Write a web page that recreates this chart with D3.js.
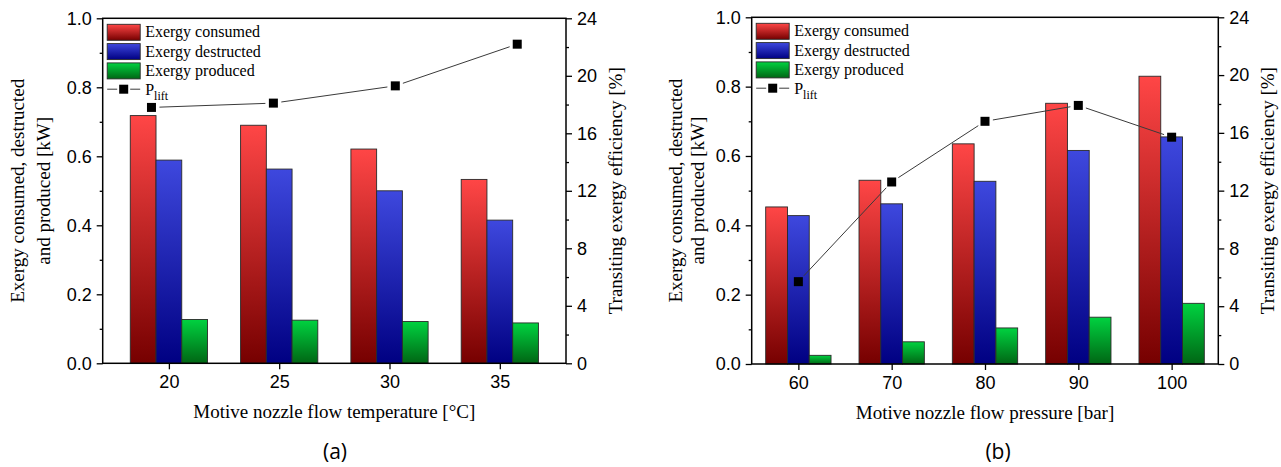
<!DOCTYPE html>
<html>
<head>
<meta charset="utf-8">
<script src="https://cdn.jsdelivr.net/npm/d3@7"></script>
<style>
  body { margin: 0; background: #fff; }
  svg { display: block; }
</style>
</head>
<body>
<svg id="chart" width="1281" height="467"></svg>
<script>
// ---- data -------------------------------------------------------------
const seriesNames = ["Exergy consumed", "Exergy destructed", "Exergy produced"];

// (a) motive nozzle flow temperature [°C]
const temperatures = [20, 25, 30, 35];
const tempConsumed = [0.718, 0.690, 0.621, 0.533];
const tempDestructed = [0.589, 0.563, 0.500, 0.415];
const tempProduced = [0.127, 0.125, 0.121, 0.117];
const tempEfficiency = [17.8, 18.1, 19.3, 22.2];

// (b) motive nozzle flow pressure [bar]
const pressures = [60, 70, 80, 90, 100];
const pressConsumed = [0.453, 0.530, 0.635, 0.752, 0.830];
const pressDestructed = [0.428, 0.462, 0.527, 0.616, 0.655];
const pressProduced = [0.025, 0.064, 0.104, 0.135, 0.175];
const pressEfficiency = [5.7, 12.6, 16.8, 17.9, 15.7];

// axis ticks
const powerTicks = [0, 0.2, 0.4, 0.6, 0.8, 1.0];
const powerMinorTicks = [0.1, 0.3, 0.5, 0.7, 0.9];
const efficiencyTicks = [0, 4, 8, 12, 16, 20, 24];
const efficiencyMinorTicks = [2, 6, 10, 14, 18, 22];

// ---- drawing ----------------------------------------------------------
const svg = d3.select("#chart");
const defs = svg.append("defs");

// vertical fills: bright at the top of each bar, dark at its base
const fills = [["#ff4646", "#760000"], ["#3e48de", "#000082"], ["#00d240", "#006614"]];
fills.forEach((c, i) => {
  const g = defs.append("linearGradient").attr("id", "fill" + i)
    .attr("x1", 0).attr("y1", 0).attr("x2", 0).attr("y2", 1);
  g.append("stop").attr("offset", "0%").attr("stop-color", c[0]);
  g.append("stop").attr("offset", "100%").attr("stop-color", c[1]);
});

const tickFont = "'Liberation Sans', Arial, sans-serif";
const serifFont = "'Liberation Serif', 'Times New Roman', serif";

function drawPanel(p) {
  const g = svg.append("g");
  const x = d3.scaleLinear().domain(p.xDomain).range([p.left, p.right]);
  const xLine = d3.scaleLinear().domain(p.lineXDomain).range([p.left, p.right]);
  const y = d3.scaleLinear().domain([0, 1]).range([p.bottom, p.top]);
  const yR = d3.scaleLinear().domain([0, 24]).range([p.bottom, p.top]);

  // bars
  const barUnits = p.step * 0.7 / 3;
  const barW = x(barUnits) - x(0);
  p.series.forEach((vals, s) => {
    g.append("g").selectAll("rect").data(vals).join("rect")
      .attr("x", (d, i) => x(p.categories[i] - 1.5 * barUnits + s * barUnits))
      .attr("y", d => y(d))
      .attr("width", barW)
      .attr("height", d => y(0) - y(d))
      .attr("fill", `url(#fill${s})`)
      .attr("stroke", "#2a2a2a")
      .attr("stroke-width", 0.9);
  });

  // efficiency line with small gaps around each marker
  const pts = p.efficiency.map((v, i) => [xLine(p.categories[i]), yR(v)]);
  const gap = 8;
  const line = d3.line();
  for (let i = 0; i < pts.length - 1; i++) {
    const [x0, y0] = pts[i], [x1, y1] = pts[i + 1];
    const len = Math.hypot(x1 - x0, y1 - y0);
    const ux = (x1 - x0) / len, uy = (y1 - y0) / len;
    g.append("path")
      .attr("d", line([[x0 + ux * gap, y0 + uy * gap], [x1 - ux * gap, y1 - uy * gap]]))
      .attr("fill", "none").attr("stroke", "#3a3a3a").attr("stroke-width", 1);
  }
  g.append("g").selectAll("rect").data(pts).join("rect")
    .attr("x", d => d[0] - 4.5).attr("y", d => d[1] - 4.5)
    .attr("width", 9).attr("height", 9).attr("fill", "#000");

  // frame
  g.append("rect").attr("x", p.left).attr("y", p.top)
    .attr("width", p.right - p.left).attr("height", p.bottom - p.top)
    .attr("fill", "none").attr("stroke", "#000").attr("stroke-width", 1.5);

  const styleAxis = a => {
    a.select(".domain").remove();
    a.selectAll("line").attr("stroke", "#000").attr("stroke-width", 1.3);
    a.selectAll("text").attr("font-family", tickFont).attr("font-size", 18).attr("fill", "#000");
  };

  // left axis
  g.append("g").attr("transform", `translate(${p.left},0)`)
    .call(d3.axisLeft(y).tickValues(powerTicks).tickFormat(d3.format(".1f")).tickSize(6).tickPadding(5))
    .call(styleAxis);
  g.append("g").attr("transform", `translate(${p.left},0)`)
    .call(d3.axisLeft(y).tickValues(powerMinorTicks).tickFormat("").tickSize(3))
    .call(styleAxis);

  // right axis
  g.append("g").attr("transform", `translate(${p.right},0)`)
    .call(d3.axisRight(yR).tickValues(efficiencyTicks).tickSize(6).tickPadding(5))
    .call(styleAxis);
  g.append("g").attr("transform", `translate(${p.right},0)`)
    .call(d3.axisRight(yR).tickValues(efficiencyMinorTicks).tickFormat("").tickSize(3))
    .call(styleAxis);

  // bottom axis
  g.append("g").attr("transform", `translate(0,${p.bottom})`)
    .call(d3.axisBottom(x).tickValues(p.categories).tickFormat(d3.format("d")).tickSize(6).tickPadding(6))
    .call(styleAxis);

  // axis titles
  const midY = (p.top + p.bottom) / 2;
  p.leftTitle.forEach((t, i) => {
    g.append("text")
      .attr("transform", `translate(${p.leftTitleX[i]},${midY}) rotate(-90)`)
      .attr("text-anchor", "middle").attr("dy", "0.35em")
      .attr("font-family", serifFont).attr("font-size", 19).text(t);
  });
  g.append("text")
    .attr("transform", `translate(${p.right + 49},${midY}) rotate(-90)`)
    .attr("text-anchor", "middle").attr("dy", "0.35em")
    .attr("font-family", serifFont).attr("font-size", 19)
    .text("Transiting exergy efficiency [%]");
  g.append("text")
    .attr("x", (p.left + p.right) / 2).attr("y", p.bottom + 55)
    .attr("text-anchor", "middle")
    .attr("font-family", serifFont).attr("font-size", 19)
    .text(p.xTitle);
  g.append("text")
    .attr("x", p.tagX).attr("y", 459)
    .attr("text-anchor", "middle")
    .attr("font-family", "'Open Sans', 'Noto Sans', sans-serif").attr("font-size", 21)
    .text(p.tag);

  // legend
  const lx = p.left + 4.5, ly = p.top + 6, row = 19.3;
  seriesNames.forEach((name, s) => {
    g.append("rect").attr("x", lx).attr("y", ly + s * row)
      .attr("width", 33).attr("height", 16)
      .attr("fill", `url(#fill${s})`).attr("stroke", "#2a2a2a").attr("stroke-width", 0.9);
    g.append("text").attr("x", lx + 38).attr("y", ly + s * row + 13)
      .attr("font-family", serifFont).attr("font-size", 16).text(name);
  });
  const ry = ly + 3 * row + 7;
  g.append("path").attr("d", d3.line()([[lx, ry], [lx + 10, ry]])).attr("stroke", "#3a3a3a");
  g.append("path").attr("d", d3.line()([[lx + 23, ry], [lx + 33, ry]])).attr("stroke", "#3a3a3a");
  g.append("rect").attr("x", lx + 12).attr("y", ry - 4.5).attr("width", 9).attr("height", 9).attr("fill", "#000");
  const lt = g.append("text").attr("x", lx + 38).attr("y", ry + 6)
    .attr("font-family", serifFont).attr("font-size", 16);
  lt.append("tspan").text("P");
  lt.append("tspan").attr("font-size", 12).attr("dy", 5).text("lift");
}

drawPanel({
  left: 102.7, right: 566, top: 18.3, bottom: 363.3,
  xDomain: [17, 38], lineXDomain: [18, 37], step: 5,
  categories: temperatures,
  series: [tempConsumed, tempDestructed, tempProduced],
  efficiency: tempEfficiency,
  leftTitle: ["Exergy consumed, destructed", "and produced [kW]"],
  leftTitleX: [17, 43],
  xTitle: "Motive nozzle flow temperature [°C]",
  tag: "(a)", tagX: 335
});

drawPanel({
  left: 751.7, right: 1218.3, top: 17.3, bottom: 364,
  xDomain: [55, 105], lineXDomain: [55, 105], step: 10,
  categories: pressures,
  series: [pressConsumed, pressDestructed, pressProduced],
  efficiency: pressEfficiency,
  leftTitle: ["Exergy consumed, destructed", "and produced [kW]"],
  leftTitleX: [675, 697],
  xTitle: "Motive nozzle flow pressure [bar]",
  tag: "(b)", tagX: 998
});
</script>
</body>
</html>
